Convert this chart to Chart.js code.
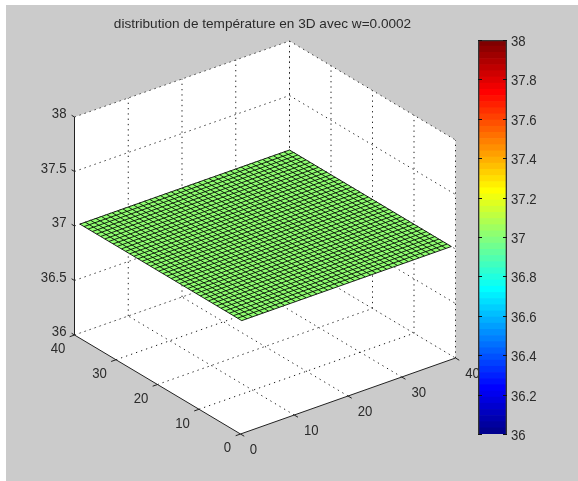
<!DOCTYPE html>
<html>
<head>
<meta charset="utf-8">
<script src="https://cdn.jsdelivr.net/npm/chart.js@4/dist/chart.umd.min.js"></script>
<style>
html, body { margin: 0; padding: 0; background: #fff; }
#fig { position: absolute; left: 6px; top: 5px; width: 572px; height: 476px; background: #cbcbcb; }
canvas { position: absolute; left: 0; top: 0; }
</style>
</head>
<body>
<div id="fig"></div>
<canvas id="surface" width="578" height="481"></canvas>
<canvas id="colorbar" width="578" height="481"></canvas>

<script>
var titleText = "distribution de température en 3D avec w=0.0002"
var xTicks = [0, 10, 20, 30, 40]
var yTicks = [0, 10, 20, 30, 40]
var zTicks = [36, 36.5, 37, 37.5, 38]
var surfX = [1,2,3,4,5,6,7,8,9,10,11,12,13,14,15,16,17,18,19,20,21,22,23,24,25,26,27,28,29,30,31,32,33,34,35,36,37,38,39,40]
var surfY = [1,2,3,4,5,6,7,8,9,10,11,12,13,14,15,16,17,18,19,20,21,22,23,24,25,26,27,28,29,30,31,32,33,34,35,36,37,38,39,40]
var surfTemp = 37
var cbarTicks = [36, 36.2, 36.4, 36.6, 36.8, 37, 37.2, 37.4, 37.6, 37.8, 38]
var jetColors = [
  "#00008f","#00009f","#0000af","#0000bf","#0000cf","#0000df","#0000ef","#0000ff",
  "#0010ff","#0020ff","#0030ff","#0040ff","#0050ff","#0060ff","#0070ff","#0080ff",
  "#008fff","#009fff","#00afff","#00bfff","#00cfff","#00dfff","#00efff","#00ffff",
  "#10ffef","#20ffdf","#30ffcf","#40ffbf","#50ffaf","#60ff9f","#70ff8f","#80ff80",
  "#8fff70","#9fff60","#afff50","#bfff40","#cfff30","#dfff20","#efff10","#ffff00",
  "#ffef00","#ffdf00","#ffcf00","#ffbf00","#ffaf00","#ff9f00","#ff8f00","#ff8000",
  "#ff7000","#ff6000","#ff5000","#ff4000","#ff3000","#ff2000","#ff1000","#ff0000",
  "#ef0000","#df0000","#cf0000","#bf0000","#af0000","#9f0000","#8f0000","#800000"
]

var FONT = "'Liberation Sans', Arial, sans-serif"
var TEXT = "#2b2b2b"

// view of the 3D box: where the origin lands and what one unit on each axis moves
function project(x, y, z){
  return {
    x: 240.5 + x * 215 / 40 - y * 166 / 40,
    y: 434 - x * 76 / 40 - y * 99 / 40 - (z - 36) * 109
  }
}

// tick labels in the source are tall and narrow, so squeeze them sideways
function narrowText(ctx, text, px, py){
  ctx.save()
  ctx.translate(px, py)
  ctx.scale(0.85, 1)
  ctx.fillText(text, 0, 0)
  ctx.restore()
}

var datasets = []
function addLine(points, color, dash, width){
  datasets.push({
    data: points.map(function(p){ return project(p[0], p[1], p[2]) }),
    showLine: true, pointRadius: 0, borderColor: color,
    borderWidth: width || 1, borderDash: dash || [], order: -datasets.length
  })
}
function addFace(points, color){
  datasets.push({
    data: points.map(function(p){ return project(p[0], p[1], p[2]) }),
    showLine: true, pointRadius: 0, borderWidth: 0, borderColor: color,
    backgroundColor: color, fill: "shape", order: -datasets.length
  })
}

var x0 = xTicks[0], x1 = xTicks[4], y0 = yTicks[0], y1 = yTicks[4], zLo = zTicks[0], zHi = zTicks[4]
var DOTS = [1.3, 4]
var GRID = "#222"

// white walls and floor
addFace([[x0,y1,zHi],[x1,y1,zHi],[x1,y1,zLo],[x0,y1,zLo],[x0,y1,zHi]], "#fff")
addFace([[x1,y1,zHi],[x1,y0,zHi],[x1,y0,zLo],[x1,y1,zLo],[x1,y1,zHi]], "#fff")
addFace([[x0,y0,zLo],[x1,y0,zLo],[x1,y1,zLo],[x0,y1,zLo],[x0,y0,zLo]], "#fff")

// dotted grid
xTicks.forEach(function(x){
  addLine([[x,y1,zLo],[x,y1,zHi]], GRID, DOTS)
  if (x > x0 && x < x1) addLine([[x,y0,zLo],[x,y1,zLo]], GRID, DOTS)
})
yTicks.forEach(function(y){
  addLine([[x1,y,zLo],[x1,y,zHi]], GRID, DOTS)
  if (y > y0 && y < y1) addLine([[x0,y,zLo],[x1,y,zLo]], GRID, DOTS)
})
zTicks.forEach(function(z){
  if (z > zLo) addLine([[x0,y1,z],[x1,y1,z]], GRID, DOTS)
  if (z > zLo) addLine([[x1,y1,z],[x1,y0,z]], GRID, DOTS)
})
addLine([[x0,y1,zLo],[x1,y1,zLo],[x1,y0,zLo]], GRID, DOTS)

// the surface
var sx0 = surfX[0], sx1 = surfX[surfX.length - 1], sy0 = surfY[0], sy1 = surfY[surfY.length - 1]
addFace([[sx0,sy0,surfTemp],[sx1,sy0,surfTemp],[sx1,sy1,surfTemp],[sx0,sy1,surfTemp],[sx0,sy0,surfTemp]], jetColors[32])
surfX.forEach(function(x){
  addLine(surfY.map(function(y){ return [x, y, surfTemp] }), "#000", [], 0.85)
})
surfY.forEach(function(y){
  addLine(surfX.map(function(x){ return [x, y, surfTemp] }), "#000", [], 0.85)
})

// solid axes and tick marks
addLine([[x0,y1,zHi],[x0,y1,zLo],[x0,y0,zLo],[x1,y0,zLo]], "#222")
xTicks.forEach(function(x){ addLine([[x,y0,zLo],[x,-0.9,zLo]], "#222") })
yTicks.forEach(function(y){ addLine([[x0,y,zLo],[-0.9,y,zLo]], "#222") })
zTicks.forEach(function(z){ addLine([[x0,y1,z],[x0,y1+0.7,z]], "#222") })

// tick labels of the 3D axes
var boxLabels = {
  id: "boxLabels",
  afterDraw: function(chart){
    var ctx = chart.ctx, sx = chart.scales.x, sy = chart.scales.y
    function put(text, p, dx, dy){
      narrowText(ctx, text, sx.getPixelForValue(p.x) + dx, sy.getPixelForValue(p.y) + dy)
    }
    ctx.save()
    ctx.font = "15.5px " + FONT
    ctx.fillStyle = TEXT
    ctx.textBaseline = "middle"
    ctx.textAlign = "right"
    zTicks.forEach(function(z){ put(String(z), project(x0, y1, z), -8, -3) })
    ctx.textAlign = "center"
    yTicks.forEach(function(y){ put(String(y), project(x0, y, zLo), y == 0 ? -13 : -16.5, 14) })
    xTicks.forEach(function(x){ put(String(x), project(x, y0, zLo), x == 0 ? 13 : 17, 16) })
    ctx.restore()
  }
}

new Chart(document.getElementById("surface"), {
  type: "scatter",
  data: { datasets: datasets },
  plugins: [boxLabels],
  options: {
    responsive: false,
    animation: false,
    layout: { padding: { left: 0, top: 0, right: 53, bottom: 0 } },
    plugins: {
      legend: { display: false },
      tooltip: { enabled: false },
      title: {
        display: true, text: titleText, fullSize: false, color: TEXT,
        font: { family: FONT, size: 13.6, weight: "normal", lineHeight: "16px" },
        padding: { top: 16, bottom: 8 }
      }
    },
    scales: {
      x: { type: "linear", display: false, min: 0, max: 525 },
      y: { type: "linear", display: false, min: 40, max: 481, reverse: true }
    }
  }
})

// colorbar
var barSets = [{
  data: [[cbarTicks[0], cbarTicks[cbarTicks.length - 1]]],
  backgroundColor: "rgba(0,0,0,0)", borderColor: "#333", borderWidth: 1,
  barPercentage: 1, categoryPercentage: 1
}]
jetColors.forEach(function(c, i){
  var step = 2 / jetColors.length
  barSets.push({
    data: [[36 + i * step, 36 + (i + 1) * step]],
    backgroundColor: c, borderWidth: 0, barPercentage: 1, categoryPercentage: 1
  })
})

// tick marks inside the bar on both sides, labels to the right of it
var barTicks = {
  id: "barTicks",
  afterDraw: function(chart){
    var ctx = chart.ctx, sy = chart.scales.y, area = chart.chartArea
    ctx.save()
    ctx.strokeStyle = "#111"
    ctx.lineWidth = 1
    ctx.font = "15.5px " + FONT
    ctx.fillStyle = TEXT
    ctx.textBaseline = "middle"
    ctx.textAlign = "left"
    cbarTicks.forEach(function(v){
      var py = Math.round(sy.getPixelForValue(v)) + 0.5
      ctx.beginPath()
      ctx.moveTo(area.left, py); ctx.lineTo(area.left + 4, py)
      ctx.moveTo(area.right - 4, py); ctx.lineTo(area.right, py)
      ctx.stroke()
      narrowText(ctx, String(v), area.right + 4, py + 1)
    })
    ctx.restore()
  }
}

new Chart(document.getElementById("colorbar"), {
  type: "bar",
  data: { labels: ["T"], datasets: barSets },
  plugins: [barTicks],
  options: {
    responsive: false,
    animation: false,
    layout: { padding: { left: 478, top: 40, right: 71, bottom: 47 } },
    plugins: { legend: { display: false }, tooltip: { enabled: false }, title: { display: false } },
    scales: {
      x: { display: false, grouped: false, stacked: true },
      y: { display: false, min: 36, max: 38 }
    }
  }
})
</script>
</body>
</html>
